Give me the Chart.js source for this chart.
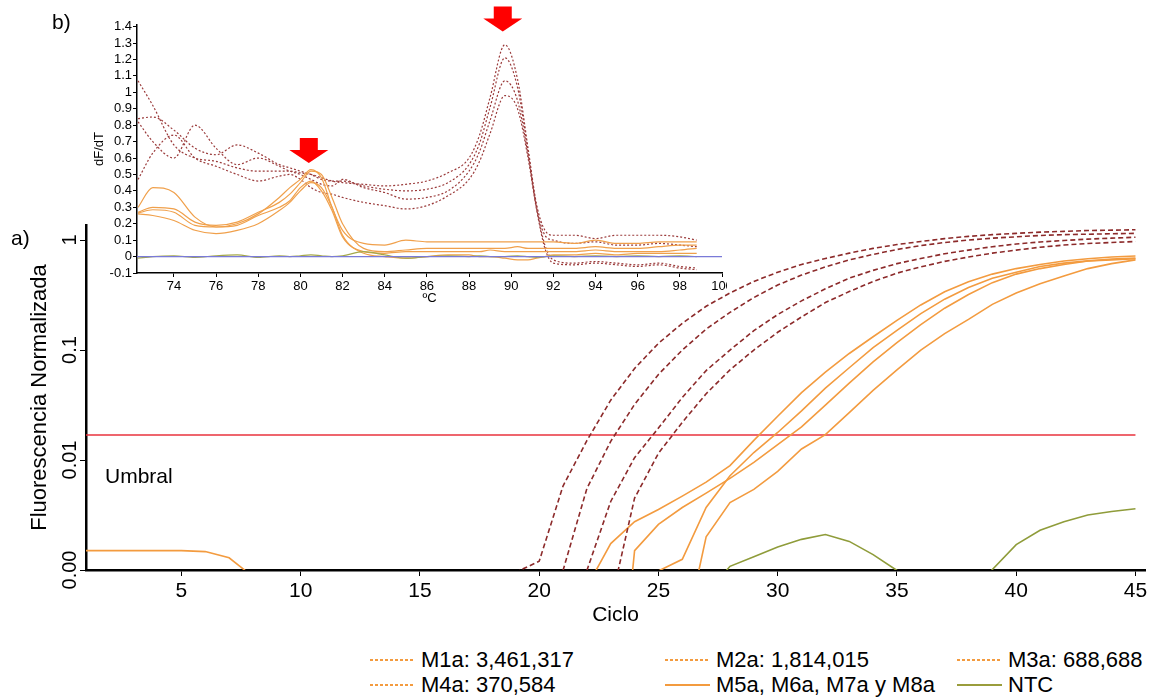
<!DOCTYPE html>
<html>
<head>
<meta charset="utf-8">
<script src="https://cdn.jsdelivr.net/npm/chart.js@4.4.1/dist/chart.umd.min.js"></script>
<style>
  html, body { margin: 0; padding: 0; background: #fff; }
  body { width: 1155px; height: 698px; position: relative; overflow: hidden;
         font-family: Arial, "Liberation Sans", sans-serif; color: #000; }
  #mainChart { position: absolute; left: 0; top: 0; }
  #insetWrap { position: absolute; left: 90px; top: 0; width: 637px; height: 310px; overflow: hidden; }
  .lbl { position: absolute; font-size: 21px; line-height: 24px; white-space: nowrap; }
  .leg { position: absolute; height: 24px; display: flex; align-items: center;
         font-size: 22px; white-space: nowrap; }
  .sw { display: inline-block; width: 45px; height: 1.5px; margin-right: 6px; }
</style>
</head>
<body>
<canvas id="mainChart" width="1155" height="640"></canvas>
<div id="insetWrap"><canvas id="meltChart" width="660" height="307"></canvas></div>
<div class="lbl" style="left:11px; top:226px;">a)</div>
<div class="lbl" style="left:52px; top:10px;">b)</div>
<div class="lbl" style="left:105px; top:464px;">Umbral</div>
<div id="legend"></div>

<script>
// ============================================================
// qPCR amplification (a) + melt curves (b)
// ============================================================

const FONT = 'Arial, "Liberation Sans", sans-serif';
Chart.defaults.font.family = FONT;
Chart.defaults.color = '#000';

// ---------- a) amplification, normalized fluorescence per cycle ----------
const cycles = [1, 2, 3, 4, 5, 6, 7, 8, 9, 10, 11, 12, 13, 14, 15, 16, 17, 18, 19, 20,
                21, 22, 23, 24, 25, 26, 27, 28, 29, 30, 31, 32, 33, 34, 35, 36, 37, 38, 39, 40,
                41, 42, 43, 44, 45];

const m1a = [null, null, null, null, null, null, null, null, null, null, null, null, null, null, null, null, null, null,
             0.00095, 0.0012, 0.0058, 0.015, 0.035, 0.068, 0.115, 0.175, 0.25, 0.33, 0.42, 0.51, 0.60, 0.68,
             0.76, 0.84, 0.91, 0.97, 1.03, 1.08, 1.12, 1.15, 1.18, 1.20, 1.22, 1.23, 1.24];
const m2a = [null, null, null, null, null, null, null, null, null, null, null, null, null, null, null, null, null, null, null, null,
             0.00099, 0.0055, 0.0148, 0.032, 0.060, 0.10, 0.155, 0.22, 0.30, 0.39, 0.48, 0.57, 0.66,
             0.74, 0.82, 0.89, 0.95, 1.00, 1.04, 1.07, 1.10, 1.12, 1.13, 1.14, 1.15];
const m3a = [null, null, null, null, null, null, null, null, null, null, null, null, null, null, null, null, null, null, null, null, null,
             0.00099, 0.0042, 0.0105, 0.0195, 0.037, 0.065, 0.10, 0.15, 0.21, 0.28, 0.36, 0.45,
             0.53, 0.61, 0.68, 0.75, 0.81, 0.87, 0.92, 0.96, 0.99, 1.02, 1.04, 1.06];
const m4a = [null, null, null, null, null, null, null, null, null, null, null, null, null, null, null, null, null, null, null, null, null, null,
             0.0005, 0.0045, 0.0115, 0.022, 0.040, 0.066, 0.10, 0.145, 0.20, 0.27, 0.34,
             0.42, 0.50, 0.57, 0.64, 0.70, 0.76, 0.81, 0.86, 0.90, 0.93, 0.95, 0.97];

const m5a = [0.0015, 0.0015, 0.0015, 0.0015, 0.0015, 0.00147, 0.00129, 0.00087,
             null, null, null, null, null, null, null, null, null, null, null, null, null,
             0.0007, 0.00174, 0.00275, 0.00355, 0.0047, 0.0063, 0.0089, 0.0151, 0.025, 0.041, 0.063,
             0.093, 0.132, 0.186, 0.257, 0.339, 0.417, 0.49, 0.55, 0.60, 0.645, 0.676, 0.70, 0.716];
const m6a = [null, null, null, null, null, null, null, null, null, null, null, null, null, null, null, null, null, null, null, null, null, null,
             0.00001, 0.0015, 0.0026, 0.0037, 0.005, 0.0068, 0.0095, 0.0138, 0.020, 0.0316, 0.050,
             0.078, 0.117, 0.17, 0.24, 0.32, 0.41, 0.49, 0.55, 0.60, 0.645, 0.67, 0.685];
const m7a = [null, null, null, null, null, null, null, null, null, null, null, null, null, null, null, null, null, null, null, null, null, null, null, null,
             0.00098, 0.00125, 0.0037, 0.0072, 0.0117, 0.0178, 0.028, 0.045, 0.069,
             0.105, 0.151, 0.214, 0.29, 0.37, 0.45, 0.51, 0.575, 0.617, 0.646, 0.66, 0.676];
const m8a = [null, null, null, null, null, null, null, null, null, null, null, null, null, null, null, null, null, null, null, null, null, null, null, null, null,
             0.0002, 0.002, 0.0041, 0.0054, 0.0079, 0.0126, 0.017, 0.027,
             0.043, 0.066, 0.10, 0.141, 0.19, 0.26, 0.33, 0.40, 0.47, 0.55, 0.61, 0.66];
const ntc = [null, null, null, null, null, null, null, null, null, null, null, null, null, null, null, null, null, null, null, null, null, null, null, null, null, null,
             0.0006, 0.00108, 0.00132, 0.00162, 0.0019, 0.0021, 0.00182, 0.00138, 0.00099, 0.0006,
             null, 0.0006, 0.00101, 0.0017, 0.0023, 0.00275, 0.00316, 0.0034, 0.0036];

const umbralX = [1, 45];
const umbralY = [0.0169, 0.0169];

const xTicks     = [5, 10, 15, 20, 25, 30, 35, 40, 45];
const yTickVals  = [0.001, 0.01, 0.1, 1];
const yTickText  = ['0.00', '0.01', '0.1', '1'];

// ---------- b) melt curves, dF/dT per temperature ----------
const tempC = [72.3, 73, 74, 75, 76, 77, 78, 79, 79.5, 80, 80.5, 81, 81.5, 82, 83, 84, 85, 86, 87, 88,
               88.5, 89, 89.7, 90.3, 90.8, 91.2, 91.6, 92, 93, 94, 95, 96, 97, 98, 98.8];

const meltM1 = [1.07, 0.92, 0.68, 0.60, 0.58, 0.54, 0.52, 0.52, 0.52, 0.51, 0.50, 0.48, 0.46, 0.45,
                0.44, 0.43, 0.44, 0.46, 0.51, 0.60, 0.74, 0.97, 1.29, 1.08, 0.66, 0.32, 0.16, 0.13,
                0.13, 0.11, 0.13, 0.13, 0.13, 0.12, 0.10];
const meltM2 = [0.84, 0.85, 0.77, 0.66, 0.62, 0.68, 0.63, 0.56, 0.54, 0.52, 0.50, 0.47, 0.46, 0.46,
                0.43, 0.41, 0.40, 0.41, 0.45, 0.56, 0.69, 0.91, 1.21, 1.03, 0.64, 0.30, 0.13, 0.10,
                0.08, 0.09, 0.07, 0.07, 0.08, 0.07, 0.06];
const meltM3 = [0.82, 0.70, 0.60, 0.80, 0.66, 0.56, 0.60, 0.55, 0.52, 0.50, 0.47, 0.44, 0.43, 0.47,
                0.42, 0.39, 0.35, 0.36, 0.40, 0.52, 0.64, 0.83, 1.07, 0.95, 0.62, 0.30, 0.07, -0.02,
                -0.04, -0.03, -0.04, -0.05, -0.04, -0.06, -0.07];
const meltM4 = [0.47, 0.63, 0.74, 0.60, 0.55, 0.50, 0.46, 0.49, 0.50, 0.47, 0.42, 0.39, 0.38, 0.36,
                0.33, 0.31, 0.29, 0.31, 0.37, 0.47, 0.58, 0.75, 0.98, 0.90, 0.60, 0.29, 0.05, -0.04,
                -0.05, -0.04, -0.05, -0.06, -0.05, -0.07, -0.08];
const meltM5 = [0.30, 0.42, 0.39, 0.24, 0.18, 0.20, 0.26, 0.36, 0.42, 0.47, 0.53, 0.48, 0.30, 0.16,
                0.08, 0.07, 0.10, 0.09, 0.09, 0.09, 0.09, 0.09, 0.09, 0.09, 0.09, 0.09, 0.09, 0.09,
                0.08, 0.10, 0.08, 0.08, 0.09, 0.09, 0.09];
const meltM6 = [0.27, 0.30, 0.29, 0.21, 0.19, 0.21, 0.27, 0.33, 0.38, 0.45, 0.52, 0.50, 0.36, 0.20,
                0.05, 0.03, 0.04, 0.05, 0.05, 0.05, 0.05, 0.05, 0.05, 0.06, 0.05, 0.05, 0.05, 0.05,
                0.05, 0.06, 0.05, 0.05, 0.06, 0.07, 0.07];
const meltM7 = [0.265, 0.285, 0.27, 0.19, 0.18, 0.19, 0.25, 0.30, 0.34, 0.42, 0.46, 0.40, 0.28, 0.12,
                0.03, 0.02, 0.03, 0.03, 0.03, 0.03, 0.03, 0.04, 0.03, 0.03, 0.03, 0.03, 0.03, 0.03,
                0.03, 0.04, 0.03, 0.03, 0.03, 0.04, 0.05];
const meltM8 = [0.26, 0.25, 0.22, 0.16, 0.14, 0.16, 0.20, 0.28, 0.33, 0.40, 0.45, 0.42, 0.30, 0.13,
                0.02, 0.00, -0.01, 0.00, 0.01, 0.01, 0.00, 0.00, -0.01, -0.02, -0.02, -0.01, 0.00, 0.01,
                0.01, 0.02, 0.01, 0.02, 0.02, 0.02, 0.02];
const meltNTC = [-0.01, 0.00, 0.005, -0.005, 0.005, 0.01, -0.005, 0.005, 0.00, 0.005, 0.01, 0.005, 0.00, 0.005,
                 0.03, 0.01, -0.01, 0.00, 0.005, 0.00, 0.005, 0.00, 0.00, 0.005, 0.00, -0.005, 0.00, 0.005,
                 0.00, 0.005, 0.00, 0.005, 0.00, 0.005, 0.00];
const blankT = [72.25, 100];
const blankV = [0, 0];

const meltXTicks = [74, 76, 78, 80, 82, 84, 86, 88, 90, 92, 94, 96, 98, 100];
const meltYTicks = [-0.1, 0, 0.1, 0.2, 0.3, 0.4, 0.5, 0.6, 0.7, 0.8, 0.9, 1, 1.1, 1.2, 1.3, 1.4];

// peak markers (temperature, dF/dT at arrow tip)
const arrowT = [80.4, 89.6];
const arrowV = [0.57, 1.37];

// ---------- legend ----------
const legendText  = ['M1a: 3,461,317', 'M2a: 1,814,015', 'M3a: 688,688',
                     'M4a: 370,584', 'M5a, M6a, M7a y M8a', 'NTC'];
const legendKind  = ['dot', 'dot', 'dot', 'dot', 'solid', 'ntc'];

const C_DASH   = '#8c2a2a';
const C_ORANGE = '#f39b3f';
const C_NTC    = '#8f9c3a';
const C_UMBRAL = '#e8323c';

// ============================================================
// a) main chart
// ============================================================
function ampDash(data) {
  return { data, borderColor: C_DASH, borderWidth: 1.6, borderDash: [5, 3], spanGaps: false };
}
function ampSolid(data, color) {
  return { data, borderColor: color, borderWidth: 1.6, spanGaps: false };
}

new Chart(document.getElementById('mainChart'), {
  type: 'line',
  data: {
    labels: cycles,
    datasets: [
      ampDash(m1a), ampDash(m2a), ampDash(m3a), ampDash(m4a),
      ampSolid(m5a, C_ORANGE), ampSolid(m6a, C_ORANGE), ampSolid(m7a, C_ORANGE), ampSolid(m8a, C_ORANGE),
      ampSolid(ntc, C_NTC),
      { data: umbralX.map((x, i) => ({ x, y: umbralY[i] })), borderColor: C_UMBRAL, borderWidth: 1.6 },
    ]
  },
  options: {
    responsive: false,
    animation: false,
    layout: { padding: { left: 0, top: 225, right: 10, bottom: 0 } },
    elements: { point: { radius: 0 }, line: { tension: 0 } },
    plugins: { legend: { display: false }, tooltip: { enabled: false } },
    scales: {
      x: {
        type: 'linear', min: 1, max: 45.4,
        afterBuildTicks: a => { a.ticks = xTicks.map(v => ({ value: v })); },
        afterFit: s => { s.height = 70; },
        grid: { display: true, drawOnChartArea: false, tickLength: 6, color: '#000' },
        border: { display: true, color: '#000', width: 2.5 },
        ticks: { color: '#000', font: { size: 21 }, padding: 3, maxRotation: 0, autoSkip: false },
        title: { display: true, text: 'Ciclo', color: '#000', font: { size: 21 }, padding: { top: 0, bottom: 12 } }
      },
      y: {
        type: 'logarithmic', min: 0.001, max: 1.37,
        afterBuildTicks: a => { a.ticks = yTickVals.map(v => ({ value: v })); },
        afterFit: s => { s.width = 86; },
        grid: { display: true, drawOnChartArea: false, tickLength: 6, color: '#000' },
        border: { display: true, color: '#000', width: 2.5 },
        ticks: {
          color: '#000', font: { size: 20 }, minRotation: 90, maxRotation: 90,
          crossAlign: 'center', padding: -10, autoSkip: false,
          callback: v => yTickText[yTickVals.indexOf(v)]
        },
        title: { display: true, text: 'Fluorescencia Normalizada', color: '#000', font: { size: 22 }, padding: { top: 27, bottom: 0 } }
      }
    }
  }
});

// ============================================================
// b) melt inset
// ============================================================
const arrowPlugin = {
  id: 'meltArrows',
  afterDatasetsDraw(chart) {
    const { ctx, scales: { x, y } } = chart;
    ctx.save();
    ctx.fillStyle = '#ff0000';
    arrowT.forEach((t, i) => {
      const px = x.getPixelForValue(t);
      const tip = y.getPixelForValue(arrowV[i]);
      ctx.beginPath();
      ctx.moveTo(px, tip);
      ctx.lineTo(px - 19.5, tip - 13);
      ctx.lineTo(px - 9, tip - 13);
      ctx.lineTo(px - 9, tip - 25);
      ctx.lineTo(px + 9, tip - 25);
      ctx.lineTo(px + 9, tip - 13);
      ctx.lineTo(px + 19.5, tip - 13);
      ctx.closePath();
      ctx.fill();
    });
    ctx.restore();
  }
};

function meltDash(data) {
  return { data, borderColor: '#9b3b3b', borderWidth: 1.2, borderDash: [2, 2], cubicInterpolationMode: 'monotone' };
}
function meltSolid(data, color) {
  return { data, borderColor: color, borderWidth: 1.2, cubicInterpolationMode: 'monotone' };
}

new Chart(document.getElementById('meltChart'), {
  type: 'line',
  data: {
    labels: tempC,
    datasets: [
      { data: blankT.map((x, i) => ({ x, y: blankV[i] })), borderColor: '#7a7ad8', borderWidth: 1.3 },
      meltSolid(meltNTC, '#a4a84a'),
      meltSolid(meltM5, '#f0a04b'), meltSolid(meltM6, '#f0a04b'), meltSolid(meltM7, '#f0a04b'), meltSolid(meltM8, '#f0a04b'),
      meltDash(meltM1), meltDash(meltM2), meltDash(meltM3), meltDash(meltM4),
    ]
  },
  options: {
    responsive: false,
    animation: false,
    layout: { padding: { left: 0, top: 25, right: 28, bottom: 0 } },
    elements: { point: { radius: 0 } },
    plugins: { legend: { display: false }, tooltip: { enabled: false } },
    scales: {
      x: {
        type: 'linear', min: 72.25, max: 100,
        afterBuildTicks: a => { a.ticks = meltXTicks.map(v => ({ value: v })); },
        afterFit: s => { s.height = 34; },
        grid: { display: true, drawOnChartArea: false, tickLength: 4, color: '#000' },
        border: { display: true, color: '#000', width: 1.5 },
        ticks: { color: '#000', font: { size: 13 }, padding: 2, maxRotation: 0, autoSkip: false, callback: v => String(v) },
        title: { display: true, text: 'ºC', color: '#000', font: { size: 13 }, padding: { top: 0, bottom: 1 } }
      },
      y: {
        min: -0.1, max: 1.41,
        afterBuildTicks: a => { a.ticks = meltYTicks.map(v => ({ value: v })); },
        afterFit: s => { s.width = 47; },
        grid: { display: true, drawOnChartArea: false, tickLength: 4, color: '#000' },
        border: { display: true, color: '#000', width: 1.5 },
        ticks: { color: '#000', font: { size: 13 }, padding: 1, autoSkip: false, callback: v => String(v) },
        title: { display: true, text: 'dF/dT', color: '#000', font: { size: 13 }, padding: { top: 2, bottom: 0 } }
      }
    }
  },
  plugins: [arrowPlugin]
});

// ============================================================
// legend (3 columns x 2 rows under the plot)
// ============================================================
const legendCol = [370, 665, 957];
const legendRow = [648, 673];
const legendEl = document.getElementById('legend');
legendText.forEach((txt, i) => {
  const kind = legendKind[i];
  const item = document.createElement('div');
  item.className = 'leg';
  item.style.left = legendCol[i % 3] + 'px';
  item.style.top  = legendRow[Math.floor(i / 3)] + 'px';
  const sw = document.createElement('span');
  sw.className = 'sw';
  if (kind === 'dot') {
    sw.style.background = `repeating-linear-gradient(to right, ${C_ORANGE} 0 3px, transparent 3px 5px)`;
  } else {
    sw.style.background = kind === 'ntc' ? '#9a9d3c' : C_ORANGE;
  }
  item.appendChild(sw);
  item.appendChild(document.createTextNode(txt));
  legendEl.appendChild(item);
});
</script>
</body>
</html>
